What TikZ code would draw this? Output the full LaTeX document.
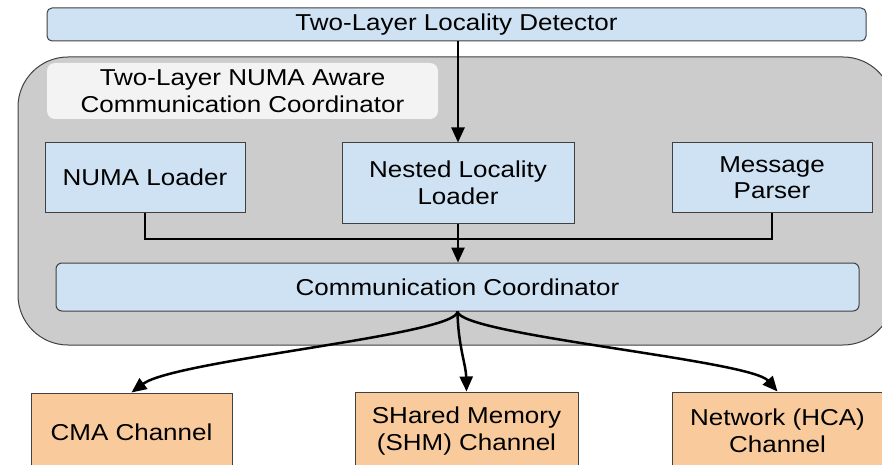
\documentclass[tikz,border=0pt]{standalone}
\usepackage{fontspec}
\setmainfont{Liberation Sans}[FakeStretch=1.13]
\usetikzlibrary{arrows.meta}
\definecolor{boxblue}{HTML}{CFE2F3}
\definecolor{boxorange}{HTML}{F9CB9C}
\definecolor{panelgrey}{HTML}{CCCCCC}
\definecolor{labelgrey}{HTML}{F3F3F3}
\definecolor{edgegrey}{HTML}{404040}
\tikzset{
  bluebox/.style={draw=edgegrey, line width=1pt, fill=boxblue, align=center, inner sep=0pt, font=\fontsize{23}{26.5}\selectfont},
  orangebox/.style={draw=edgegrey, line width=1pt, fill=boxorange, align=center, inner sep=0pt, font=\fontsize{23}{26.5}\selectfont},
  conn/.style={line width=2.5pt, black},
  arr/.style={conn, -{Triangle[length=15pt,width=13pt]}},
}
\begin{document}
\begin{tikzpicture}[x=1pt,y=-1pt]
\useasboundingbox (0,0) rectangle (882,465);
\clip (0,0) rectangle (882,465);
% panel
\draw[draw=edgegrey, line width=1pt, fill=panelgrey, rounded corners=50pt] (18,57) rectangle (893,345);
\node[fill=labelgrey, rounded corners=8pt, minimum width=391pt, minimum height=56pt, inner sep=0pt, align=center, font=\fontsize{23}{26.5}\selectfont] (title) at (242.5,91) {Two-Layer NUMA Aware\\Communication Coordinator};
% boxes
\node[bluebox, rounded corners=5pt, minimum width=819pt, minimum height=33pt] (det) at (456.5,24.5) {Two-Layer Locality Detector};
\node[bluebox, minimum width=200pt, minimum height=69pt] (numa) at (145,177.5) {NUMA Loader};
\node[bluebox, minimum width=232pt, minimum height=80pt] (nest) at (458,183) {Nested Locality\\Loader};
\node[bluebox, minimum width=200pt, minimum height=69pt] (parser) at (772,177.5) {Message\\Parser};
\node[bluebox, rounded corners=6pt, minimum width=803pt, minimum height=48pt] (cc) at (457.5,287) {Communication Coordinator};
\node[orangebox, minimum width=201pt, minimum height=78pt] (cma) at (131.5,432) {CMA Channel};
\node[orangebox, minimum width=223pt, minimum height=78pt] (shm) at (466.5,431) {SHared Memory\\(SHM) Channel};
\node[orangebox, minimum width=211pt, minimum height=78pt] (net) at (777.5,431) {Network (HCA)\\Channel};
% connectors
\coordinate (j) at (0,239);
\draw[arr] (nest.north |- det.south) -- (nest.north);
\draw[conn] (numa.south) -- (numa.south |- j) -- (parser.south |- j) -- (parser.south);
\draw[arr] (nest.south) -- (cc.north -| nest.south);
\draw[arr] (cc.south) .. controls (458,335) and (175,360) .. (cma.north);
\draw[arr] (cc.south) .. controls (458,345) and (466,365) .. (shm.north);
\draw[arr] (cc.south) .. controls (460,335) and (750,360) .. (net.north);
\end{tikzpicture}
\end{document}
